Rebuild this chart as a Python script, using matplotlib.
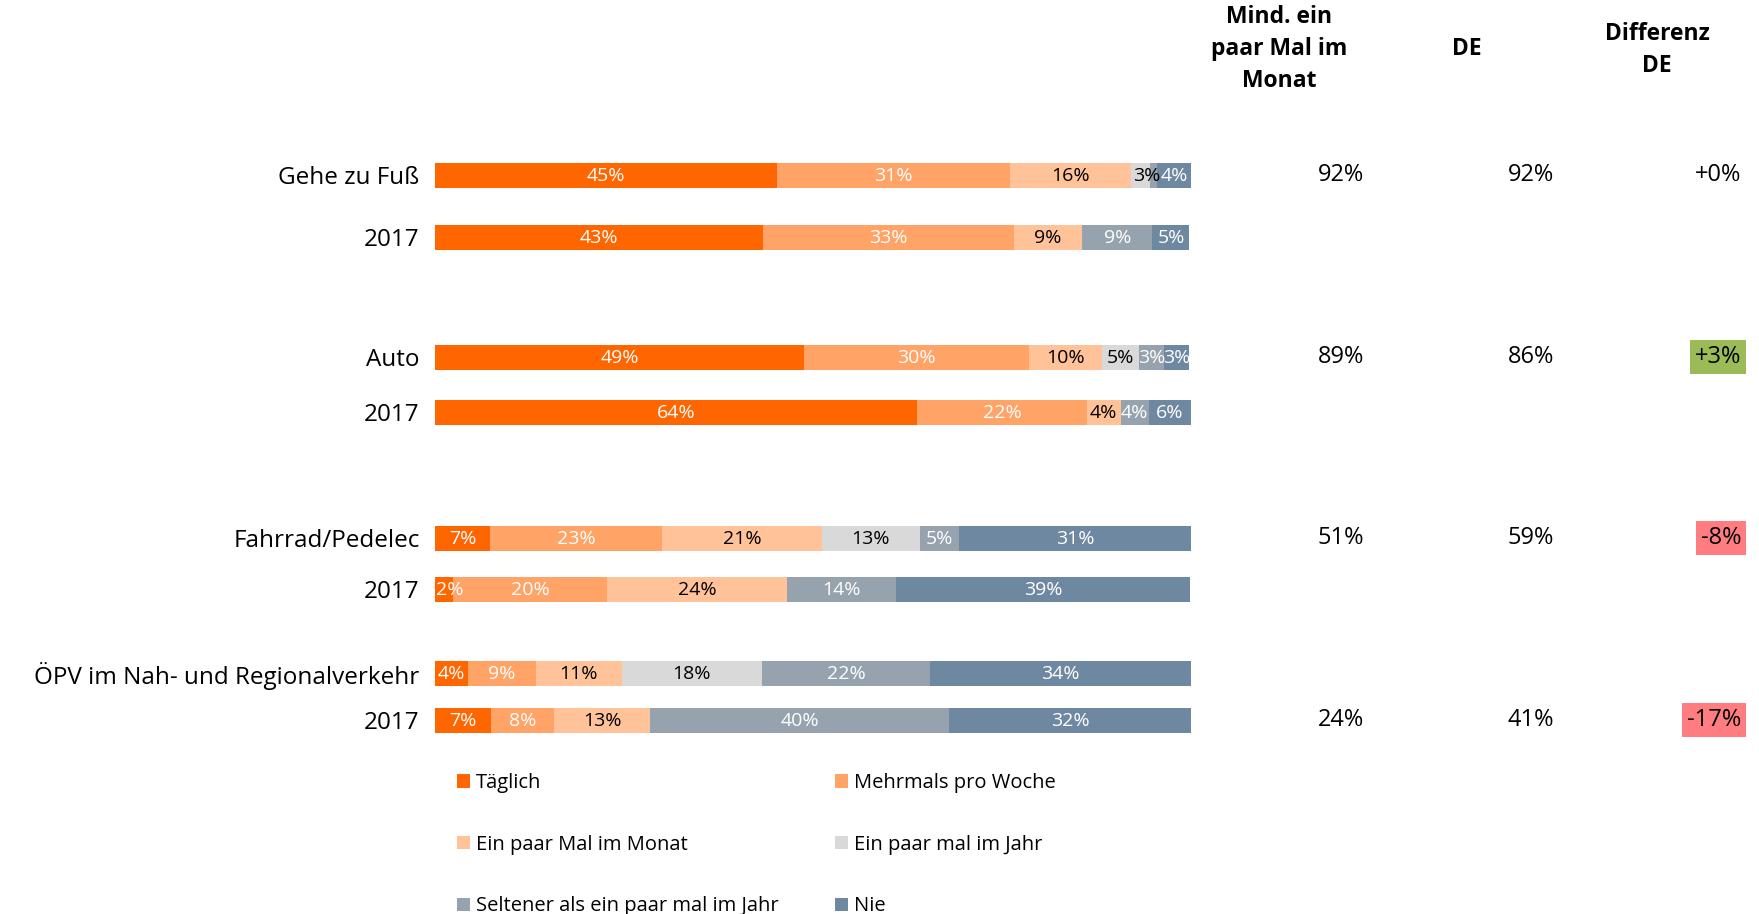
import matplotlib
matplotlib.use("Agg")
import matplotlib.pyplot as plt
from matplotlib.patches import Patch
from matplotlib.transforms import blended_transform_factory

plt.rcParams['font.family'] = ['Open Sans', 'DejaVu Sans']

# ---- data ----
row_labels = ["Gehe zu Fuß", "2017", "Auto", "2017", "Fahrrad/Pedelec", "2017",
              "ÖPV im Nah- und Regionalverkehr", "2017"]
categories = ["Täglich", "Mehrmals pro Woche", "Ein paar Mal im Monat",
              "Ein paar mal im Jahr", "Seltener als ein paar mal im Jahr", "Nie"]
taeglich  = [45.2, 43.4, 48.8, 63.8, 7.3, 2.4, 4.4, 7.4]
mehrmals  = [30.9, 33.2, 29.8, 22.4, 22.7, 20.3, 8.9, 8.4]
monat     = [15.9, 9.0, 9.6, 4.5, 21.2, 23.9, 11.4, 12.7]
jahr      = [2.6, 0.0, 4.9, 0.0, 12.9, 0.0, 18.5, 0.0]
seltener  = [0.9, 9.3, 3.3, 3.7, 5.2, 14.4, 22.3, 39.5]
nie       = [4.5, 4.9, 3.4, 5.6, 30.7, 38.9, 34.5, 32.0]
series = [taeglich, mehrmals, monat, jahr, seltener, nie]

mind_monat = ["92%", "", "89%", "", "51%", "", "", "24%"]
de_values  = ["92%", "", "86%", "", "59%", "", "", "41%"]
diff_de    = ["+0%", "", "+3%", "", "-8%", "", "", "-17%"]

# ---- style ----
colors = ["#FF6600", "#FFA366", "#FFC299", "#D9D9D9", "#96A2AE", "#6F88A2"]
text_colors = ["white", "white", "black", "black", "white", "white"]
diff_bg = {"+0%": None, "+3%": "#9BBB59", "-8%": "#FF7C80", "-17%": "#FF7C80"}
row_y = [175, 237, 357, 412, 538, 589, 673, 720]   # pixel rows (layout)

W, H = 1759, 914
fig = plt.figure(figsize=(W / 100, H / 100), dpi=100)
ax = fig.add_axes([435 / W, 0, 756 / W, 1])
ax.set_xlim(0, 100)
ax.set_ylim(H, 0)

left = [0.0] * len(row_labels)
for vals, col, tcol, name in zip(series, colors, text_colors, categories):
    bars = ax.barh(row_y, vals, left=left, height=25, color=col, label=name, linewidth=0)
    for b, v in zip(bars, vals):
        if v >= 1.5:
            ax.text(b.get_x() + b.get_width() / 2 + (0.8 if v < 3 else 0),
                    b.get_y() + b.get_height() / 2 + 1,
                    f"{round(v):d}%", ha="center", va="center", color=tcol, fontsize=14)
    left = [l + v for l, v in zip(left, vals)]

ax.set_yticks(row_y)
ax.set_yticklabels(row_labels, fontsize=17.5)
ax.tick_params(axis="y", length=0, pad=11)
ax.tick_params(axis="x", bottom=False, labelbottom=False)
for sp in ax.spines.values():
    sp.set_visible(False)

# ---- right columns ----
tr = blended_transform_factory(fig.transFigure, ax.transData)
ax.text(1279 / W, 49, "Mind. ein\npaar Mal im\nMonat", transform=tr, ha="center", va="center",
        fontsize=16.5, fontweight="bold", linespacing=1.45)
ax.text(1467 / W, 49, "DE", transform=tr, ha="center", va="center", fontsize=16.5, fontweight="bold")
ax.text(1657 / W, 50, "Differenz\nDE", transform=tr, ha="center", va="center",
        fontsize=16.5, fontweight="bold", linespacing=1.45)

for y, a, b, d in zip(row_y, mind_monat, de_values, diff_de):
    if a:
        ax.text(1364 / W, y, a, transform=tr, ha="right", va="center", fontsize=17)
    if b:
        ax.text(1554 / W, y, b, transform=tr, ha="right", va="center", fontsize=17)
    if d:
        bg = diff_bg.get(d)
        kw = {}
        if bg:
            kw["bbox"] = dict(boxstyle="square,pad=0.2", facecolor=bg, edgecolor="none")
        ax.text(1741 / W, y, d, transform=tr, ha="right", va="center", fontsize=17, **kw)

# ---- legend (row-major order in 2 columns) ----
handles = [Patch(facecolor=c, edgecolor="none", label=n) for c, n in zip(colors, categories)]
order = [0, 2, 4, 1, 3, 5]
leg = fig.legend([handles[i] for i in order], [categories[i] for i in order],
                 ncol=2, loc="upper left", bbox_to_anchor=(457 / W, 1 - 773 / H),
                 frameon=False, fontsize=14.5, handlelength=0.65, handleheight=0.65,
                 handletextpad=0.3, labelspacing=2.07, columnspacing=2.8,
                 borderaxespad=0, borderpad=0)

fig.savefig("out.png", dpi=100)
